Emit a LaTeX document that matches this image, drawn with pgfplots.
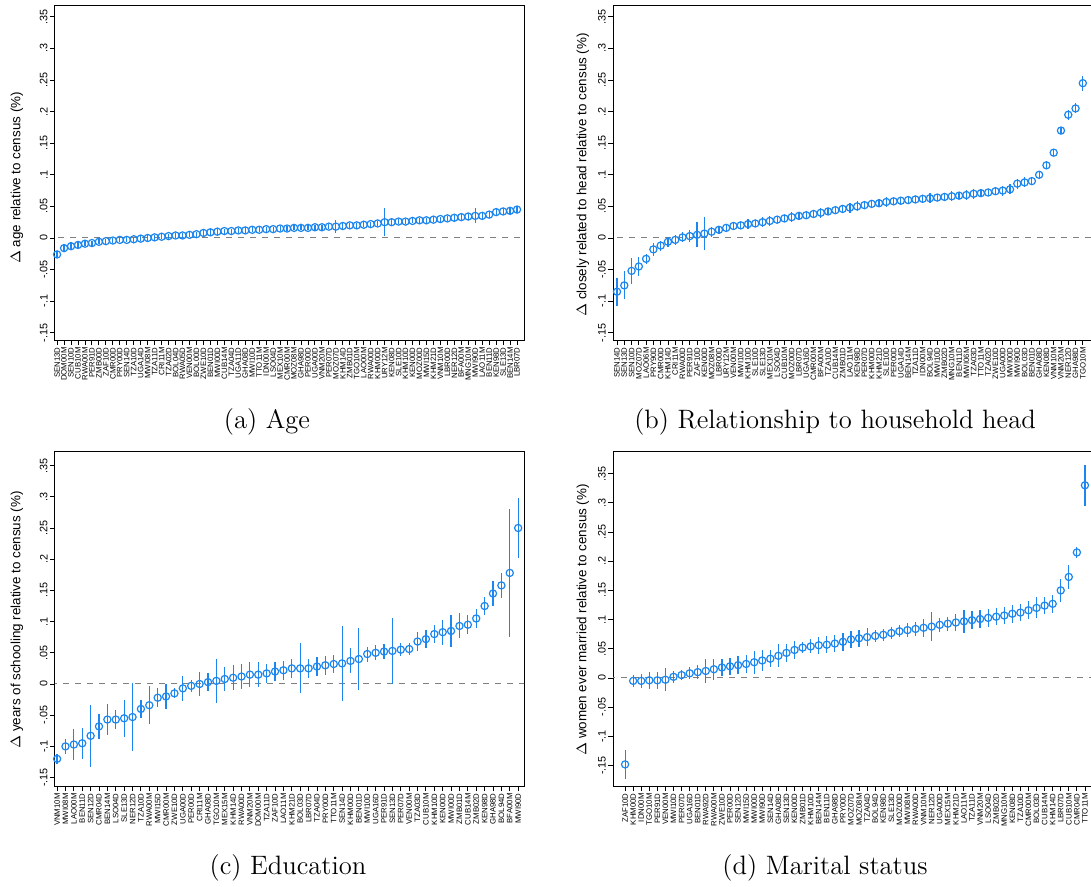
\documentclass[border=0pt]{standalone}
\usepackage{fontspec}
\usepackage{pgfplots}
\pgfplotsset{compat=1.18}
\usepackage{pgfplotstable}
\newfontfamily\arial{Liberation Sans}
\definecolor{sblue}{RGB}{28,134,238}

\pgfplotstableread{
y e
-0.026 0.006
-0.016 0.006
-0.013 0.006
-0.011 0.005
-0.009 0.004
-0.008 0.004
-0.006 0.004
-0.005 0.004
-0.004 0.004
-0.003 0.004
-0.003 0.004
-0.002 0.004
-0.001 0.004
0.000 0.004
0.001 0.004
0.002 0.004
0.003 0.004
0.004 0.004
0.004 0.004
0.005 0.004
0.006 0.004
0.008 0.005
0.009 0.005
0.010 0.005
0.011 0.004
0.011 0.004
0.012 0.004
0.012 0.005
0.013 0.004
0.013 0.004
0.014 0.004
0.014 0.004
0.015 0.004
0.015 0.004
0.016 0.004
0.016 0.004
0.016 0.004
0.017 0.004
0.017 0.004
0.018 0.004
0.018 0.010
0.019 0.004
0.020 0.004
0.020 0.004
0.021 0.004
0.022 0.004
0.023 0.004
0.025 0.022
0.025 0.005
0.026 0.004
0.026 0.004
0.027 0.004
0.028 0.004
0.028 0.004
0.029 0.004
0.030 0.004
0.031 0.004
0.032 0.005
0.033 0.005
0.034 0.005
0.035 0.012
0.035 0.005
0.037 0.005
0.041 0.005
0.042 0.005
0.043 0.005
0.045 0.006
}\tA

\pgfplotstableread{
y e
-0.085 0.022
-0.075 0.022
-0.052 0.020
-0.045 0.015
-0.033 0.008
-0.018 0.010
-0.012 0.008
-0.006 0.008
-0.003 0.008
0.001 0.008
0.003 0.010
0.005 0.020
0.007 0.026
0.010 0.008
0.013 0.006
0.016 0.006
0.019 0.006
0.020 0.006
0.022 0.008
0.023 0.006
0.025 0.008
0.027 0.008
0.029 0.006
0.031 0.006
0.033 0.008
0.035 0.006
0.036 0.006
0.038 0.006
0.040 0.008
0.042 0.006
0.044 0.006
0.046 0.006
0.048 0.008
0.050 0.008
0.052 0.006
0.054 0.006
0.055 0.006
0.057 0.008
0.058 0.006
0.059 0.006
0.060 0.006
0.061 0.006
0.062 0.006
0.063 0.008
0.064 0.006
0.065 0.006
0.066 0.008
0.067 0.006
0.068 0.008
0.070 0.008
0.071 0.006
0.072 0.006
0.074 0.006
0.075 0.008
0.077 0.008
0.086 0.008
0.088 0.008
0.090 0.006
0.100 0.006
0.115 0.006
0.135 0.005
0.170 0.005
0.195 0.008
0.205 0.008
0.245 0.012
}\tB

\pgfplotstableread{
y e
-0.120 0.008
-0.100 0.012
-0.097 0.025
-0.095 0.025
-0.083 0.050
-0.068 0.020
-0.057 0.025
-0.057 0.015
-0.055 0.030
-0.053 0.055
-0.040 0.015
-0.034 0.030
-0.022 0.015
-0.020 0.020
-0.015 0.008
-0.007 0.020
-0.003 0.010
0.000 0.020
0.003 0.015
0.005 0.035
0.008 0.020
0.010 0.020
0.012 0.020
0.015 0.020
0.015 0.020
0.017 0.015
0.020 0.015
0.022 0.015
0.025 0.015
0.025 0.040
0.025 0.015
0.028 0.015
0.030 0.015
0.032 0.015
0.033 0.060
0.037 0.020
0.040 0.050
0.048 0.012
0.050 0.012
0.052 0.012
0.053 0.053
0.055 0.010
0.056 0.010
0.068 0.015
0.072 0.015
0.080 0.015
0.083 0.020
0.085 0.025
0.093 0.020
0.095 0.015
0.105 0.015
0.125 0.015
0.145 0.020
0.158 0.020
0.178 0.102
0.250 0.048
}\tC

\pgfplotstableread{
y e
-0.148 0.025
-0.005 0.010
-0.005 0.012
-0.004 0.015
-0.004 0.015
-0.003 0.020
0.002 0.010
0.005 0.008
0.008 0.010
0.010 0.012
0.012 0.020
0.015 0.018
0.018 0.015
0.020 0.015
0.022 0.015
0.024 0.015
0.027 0.020
0.030 0.018
0.033 0.015
0.038 0.020
0.043 0.015
0.048 0.015
0.052 0.010
0.054 0.012
0.056 0.015
0.057 0.015
0.059 0.015
0.062 0.015
0.066 0.015
0.068 0.015
0.070 0.015
0.072 0.010
0.074 0.010
0.077 0.010
0.080 0.010
0.082 0.012
0.084 0.012
0.086 0.015
0.088 0.025
0.091 0.012
0.093 0.012
0.095 0.015
0.097 0.020
0.099 0.015
0.101 0.015
0.103 0.015
0.105 0.015
0.107 0.015
0.110 0.015
0.112 0.015
0.116 0.015
0.120 0.018
0.124 0.015
0.127 0.015
0.150 0.020
0.173 0.020
0.215 0.010
0.330 0.035
}\tD

\pgfplotsset{
  stpanel/.style={
    scale only axis, anchor=south west,
    axis line style={black, line width=0.5pt},
    tick align=outside, major tick length=2.5pt,
    tick style={black, line width=0.45pt},
    tick pos=left,
    ytick={-0.15,-0.1,-0.05,0,0.05,0.1,0.15,0.2,0.25,0.3,0.35},
    yticklabels={-.15,-.1,-.05,0,.05,.1,.15,.2,.25,.3,.35},
    yticklabel style={font=\arial\fontsize{5.4}{6}\selectfont, rotate=90, anchor=south, inner sep=1pt},
    xticklabel style={font=\arial\fontsize{3.9}{4}\selectfont, rotate=90, anchor=east, inner sep=1pt},
    ylabel style={font=\arial\fontsize{6.7}{8}\selectfont, anchor=center},
  },
  zline/.style={gray, dashed, line width=0.5pt, forget plot},
  pts/.style={sblue, only marks, mark=o, mark size=1.8pt, mark options={line width=0.6pt},
    error bars/.cd, y dir=both, y explicit, error mark=none,
    error bar style={line width=0.6pt, sblue}},
}

\begin{document}
\begin{tikzpicture}
\useasboundingbox (0,0) rectangle (545.5pt,-443.5pt);

% (a)
\begin{axis}[stpanel, at={(27.5pt,-170pt)}, width=234.5pt, height=167pt,
  xmin=-0.3, xmax=67, ymin=-0.1614, ymax=0.3671,
  xtick={0,...,66},
  xticklabels={SEN13D,DOM00M,SEN10D,CUB10M,RWA00M,PER91D,ZMB00D,ZAF10D,CMR00D,PRY00D,SEN14D,TZA10D,UGA14D,MWI08M,TZA11D,CRI11M,TZA02D,BOL04D,RWA05D,VEN00M,BOL00D,ZWE10D,BEN01D,MWI00D,CUB14M,TZA04D,UGA11D,GHA08D,MWI10D,TTO11M,IDN00M,LSO04D,MEX10M,CMR00M,MOZ08M,GHA98D,PER00D,UGA00D,VNM20M,PER07D,MOZ07D,KHM14D,ZMB01D,TGO10M,LAO00M,RWA00D,KHM00D,URY12M,KEN08D,SLE10D,KHM10D,KEN00D,MOZ00D,MWI15D,KHM21D,VNM10M,LBR00D,NER12D,BFA00M,MNG10M,MWI90D,LAO11M,BEN11D,KEN98D,SLE13D,BEN14M,LBR07D},
  ylabel={$\Delta$ age relative to census (\%)},
  ylabel style={at={(axis description cs:-0.081,0.485)}}]
\addplot[zline] coordinates {(-5,0) (100,0)};
\addplot[pts] table[x expr=\coordindex, y=y, y error=e] {\tA};
\end{axis}

% (b)
\begin{axis}[stpanel, at={(306.5pt,-170pt)}, width=240pt, height=167pt,
  xmin=-0.55, xmax=65.4, ymin=-0.1614, ymax=0.3671,
  xtick={0,...,64},
  xticklabels={SEN14D,SEN13D,SEN10D,MOZ07D,LAO06M,PRY90D,CMR00D,KHM14D,CRI11M,RWA00D,PER91D,ZAF10D,KEN00D,MOZ08M,LBR00D,URY12M,VEN00M,MWI10D,KHM10D,SLE10D,SLE13D,MEX10M,LSO04D,CUB10M,MOZ00D,LBR07D,UGA16D,CMR00M,BFA00M,TZA10D,CUB14M,ZMB01D,LAO11M,KEN98D,PER07D,KHM00D,KHM21D,SLE10D,PER00D,UGA14D,BEN14M,TZA11D,IDN00M,BOL94D,MWI10D,ZMB02D,MNG10M,BEN11D,MWI06M,TZA03D,TTO11M,TZA02D,ZWE10D,UGA00D,MWI00D,MWI90D,BOL03D,BEN01D,GHA08D,KEN08D,VNM10M,VNM20M,NER12D,GHA98D,TGO10M},
  ylabel={$\Delta$ closely related to head relative to census (\%)},
  ylabel style={at={(axis description cs:-0.0625,0.494)}}]
\addplot[zline] coordinates {(-5,0) (100,0)};
\addplot[pts] table[x expr=\coordindex, y=y, y error=e] {\tB};
\end{axis}

% (c)
\begin{axis}[stpanel, at={(27.5pt,-393pt)}, width=234.5pt, height=167pt,
  xmin=-0.25, xmax=55.7, ymin=-0.1635, ymax=0.3718,
  xtick={0,...,55},
  xticklabels={VNM10M,MWI08M,LAO00M,BEN11D,SEN12D,CMR04D,BEN14M,LSO04D,SLE13D,NER12D,TZA10D,RWA00M,MWI15D,CMR00M,ZWE10D,UGA00D,PER00D,CRI11M,GHA08D,TGO10M,MEX15M,KHM14D,RWA00D,VNM20M,DOM00M,TZA11D,ZAF10D,LAO11M,KHM21D,BOL03D,LBR07D,TZA04D,PRY00D,TTO11M,SEN14D,KHM00D,BEN01D,MWI10D,UGA16D,PER91D,SEN13D,PER07D,VEN00M,TZA03D,CUB10M,KHM10D,KEN00D,MWI00D,ZMB01D,CUB14M,ZMB02D,KEN98D,GHA98D,BOL94D,BFA00M,MWI90D},
  ylabel={$\Delta$ years of schooling relative to census (\%)},
  ylabel style={at={(axis description cs:-0.081,0.497)}}]
\addplot[zline] coordinates {(-5,0) (100,0)};
\addplot[pts] table[x expr=\coordindex, y=y, y error=e] {\tC};
\end{axis}

% (d)
\begin{axis}[stpanel, at={(306.5pt,-393pt)}, width=240pt, height=167pt,
  xmin=-1.5, xmax=58, ymin=-0.185, ymax=0.387,
  xtick={0,...,57},
  xticklabels={ZAF10D,KHM00D,IDN00M,TGO10M,PER91D,VEN00M,MWI10D,PER07D,UGA16D,BEN01D,RWA92D,RWA00M,ZWE10D,PER00D,SEN12D,MWI15D,MWI00D,MWI90D,SEN14D,GHA08D,SEN13D,KEN00D,ZMB01D,KHM10D,BEN14M,BEN11D,GHA98D,PRY00D,MOZ07D,MOZ08M,TZA04D,BOL94D,KEN98D,SLE13D,MOZ00D,MWI08M,RWA00D,VNM10M,NER12D,UGA00D,MEX15M,KHM21D,LAO11M,TZA11D,VNM20M,LSO04D,ZMB02D,MNG10M,KEN08D,TZA10D,CMR00M,BOL03D,CUB14M,KHM14D,LBR07D,CUB10M,CMR04D,TTO11M},
  ylabel={$\Delta$ women ever married relative to census (\%)},
  ylabel style={at={(axis description cs:-0.0625,0.497)}}]
\addplot[zline] coordinates {(-5,0) (100,0)};
\addplot[pts] table[x expr=\coordindex, y=y, y error=e] {\tD};
\end{axis}

\node[font=\fontsize{13.3}{16}\selectfont] at (133.5pt,-211pt) {(a) Age};
\node[font=\fontsize{13.3}{16}\selectfont] at (417.5pt,-211pt) {(b) Relationship to household head};
\node[font=\fontsize{13.3}{16}\selectfont] at (144pt,-434pt) {(c) Education};
\node[font=\fontsize{13.3}{16}\selectfont] at (412.5pt,-434pt) {(d) Marital status};
\end{tikzpicture}
\end{document}
